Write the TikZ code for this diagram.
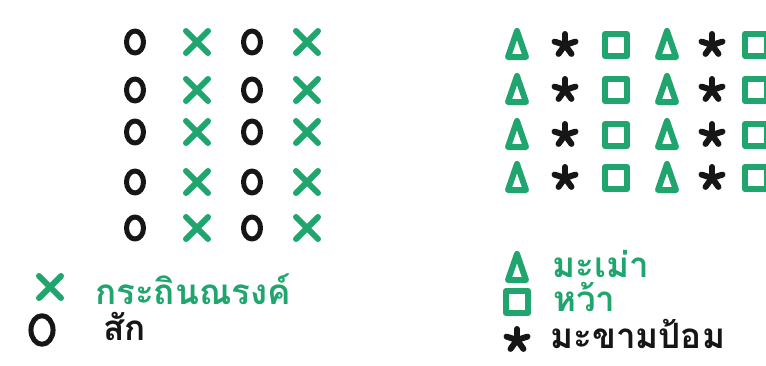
\documentclass[tikz,border=0pt]{standalone}
\usepackage{fontspec}
\newfontfamily\thaifont[Script=Thai]{Loma}
\definecolor{pengreen}{RGB}{32,165,110}
\definecolor{penblack}{RGB}{22,22,22}

\tikzset{
  pen/.style={line width=5pt, line cap=round, line join=round},
  handtext/.style={font=\thaifont\fontsize{35}{35}\selectfont\bfseries, anchor=west, inner sep=0pt},
  ring/.pic={\draw[pen, penblack] (0,0) ellipse (8.5pt and 11pt);},
  cross/.pic={\draw[pen, line width=6pt, pengreen] (-11,-11) -- (11,11) (11,-11) -- (-11,11);},
  tri/.pic={\draw[pen, line width=6pt, pengreen] (0,-14) -- (9,12) -- (-9,12) -- cycle;},
  box/.pic={\draw[pen, line width=6pt, pengreen] (-11,-11) rectangle (11,11);},
  starmark/.pic={\foreach \a in {18,90,162,234,306} \draw[pen, line width=6pt, penblack] (0,0) -- ++(\a:11pt);}
}

\begin{document}
\begin{tikzpicture}[x=1pt, y=-1pt]
  \useasboundingbox[fill=white] (0,0) rectangle (766,365);

  % Left grid: teak (O) and acacia (X), 5 rows
  \foreach \y in {42,90,132,182,228} {
    \pic at (135,\y) {ring};
    \pic at (197,\y) {cross};
    \pic at (252,\y) {ring};
    \pic at (307,\y) {cross};
  }

  % Left legend
  \pic at (50,287) {cross};
  \node[handtext, text=pengreen] (kratin) at (95,289) {กระถินณรงค์};
  \pic[scale=1.3] at (42,330) {ring};
  \node[handtext, text=penblack] (sak) at (103,326) {สัก};

  % Right grid: triangle, star, square, 4 rows
  \foreach \y in {45,90,135,178} {
    \pic at (517,\y) {tri};
    \pic at (565,\y) {starmark};
    \pic at (616,\y) {box};
    \pic at (667,\y) {tri};
    \pic at (712,\y) {starmark};
    \pic at (756,\y) {box};
  }

  % Right legend
  \pic at (517,268) {tri};
  \node[handtext, text=pengreen] (mamao) at (552,264) {มะเม่า};
  \pic at (517,302) {box};
  \node[handtext, text=pengreen] (wa) at (553,297) {หว้า};
  \pic at (517,340) {starmark};
  \node[handtext, text=penblack] (makham) at (550,334) {มะขามป้อม};
\end{tikzpicture}
\end{document}
